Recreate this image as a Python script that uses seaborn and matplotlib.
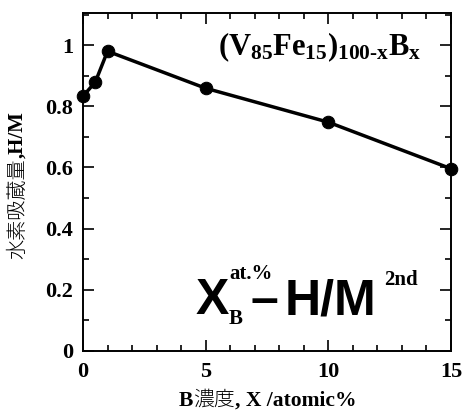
import matplotlib
matplotlib.use("Agg")
import matplotlib.pyplot as plt
from matplotlib.ticker import MultipleLocator
import seaborn as sns
import pandas as pd

# B content (at.%) and hydrogen capacity H/M
b_content = [0, 0.5, 1, 5, 10, 15]
h_over_m = [0.833, 0.879, 0.980, 0.859, 0.748, 0.596]

x_ticks = [0, 5, 10, 15]
x_tick_labels = ["0", "5", "10", "15"]
y_ticks = [0, 0.2, 0.4, 0.6, 0.8, 1.0]
y_tick_labels = ["0", "0.2", "0.4", "0.6", "0.8", "1"]

sns.set_style("ticks")
plt.rcParams.update({
    "font.family": ["Liberation Serif", "Noto Sans CJK JP"],
    "text.color": "black",
    "axes.labelcolor": "black",
    "axes.edgecolor": "black",
    "xtick.color": "black",
    "ytick.color": "black",
    "mathtext.fontset": "custom",
    "mathtext.rm": "Liberation Serif:bold",
    "mathtext.it": "Liberation Serif:bold",
    "mathtext.bf": "Liberation Serif:bold",
})

SERIF = ["Liberation Serif", "Noto Sans CJK JP"]
CJK = ["Noto Sans CJK JP", "Liberation Serif"]
SANS = ["Liberation Sans", "DejaVu Sans"]

df = pd.DataFrame({"x": b_content, "hm": h_over_m})

fig = plt.figure(figsize=(4.62, 4.12), dpi=100)
ax = fig.add_axes([83 / 462, 1 - 351 / 412, (451 - 83) / 462, (351 - 13) / 412])

sns.lineplot(data=df, x="x", y="hm", ax=ax, color="black", linewidth=2.5,
             marker="o", markersize=9, markeredgecolor="black",
             markerfacecolor="black", clip_on=False, zorder=5)

ax.set_xlim(0, 15)
ax.set_ylim(0, 1.105)
ax.set_xticks(x_ticks)
ax.set_xticklabels(x_tick_labels)
ax.set_yticks(y_ticks)
ax.set_yticklabels(y_tick_labels)
ax.xaxis.set_minor_locator(MultipleLocator(1))
ax.yaxis.set_minor_locator(MultipleLocator(0.1))
ax.tick_params(which="both", direction="in", top=True, right=True,
               color="black", width=1.2)
ax.tick_params(which="major", length=8, pad=7)
ax.tick_params(which="minor", length=4.5)
ax.tick_params(axis="x", which="major", pad=8)
for lab in ax.get_xticklabels() + ax.get_yticklabels():
    lab.set_fontfamily(SERIF)
    lab.set_fontweight("bold")
    lab.set_fontsize(16)
for sp in ax.spines.values():
    sp.set_linewidth(1.4)
    sp.set_color("black")
ax.set_xlabel("")
ax.set_ylabel("")

# x-axis label built from pieces: bold Latin, regular kanji
t1 = fig.text(179 / 462, 1 - 411 / 412, "B", fontsize=15.5,
              fontweight="bold", family=SERIF, ha="left", va="bottom")
t2 = ax.annotate("濃度", xy=(1, 0), xycoords=t1, fontsize=15,
                 family=CJK, fontweight="light", ha="left", va="bottom")
ax.annotate(", X /atomic%", xy=(1, 0), xycoords=t2, fontsize=15.5,
            fontweight="bold", family=SERIF, ha="left", va="bottom")

# y-axis label, reading bottom to top
y1 = fig.text(7 / 462, 1 - 259 / 412, "水素吸蔵量", fontsize=14.5,
              family=CJK, fontweight="light", rotation=90,
              ha="left", va="bottom")
ax.annotate(",H/M", xy=(0, 1), xycoords=y1, fontsize=15, fontweight="bold",
            family=SERIF, rotation=90, ha="left", va="bottom")

# composition label
ax.text(0.918, 0.876, r"$\mathrm{(V_{85}Fe_{15})_{100\text{-}x}B_x}$",
        transform=ax.transAxes, fontsize=22, ha="right", va="baseline")

# X_B^at.% - H/M^2nd
base_y = 1 - 314 / 412
bx = fig.text(196 / 462, base_y, "X", fontsize=36, fontweight="bold",
              family=SANS, ha="left", va="baseline")
fig.text(229 / 462, 1 - 279 / 412, "at.%", fontsize=15, fontweight="bold",
         family=SERIF, ha="left", va="baseline")
fig.text(229 / 462, 1 - 324 / 412, "B", fontsize=15, fontweight="bold",
         family=SERIF, ha="left", va="baseline")
fig.text(251 / 462, base_y, "–", fontsize=36, fontweight="bold",
         family=SANS, ha="left", va="baseline")
fig.text(285 / 462, base_y, "H/M", fontsize=36, fontweight="bold",
         family=SANS, ha="left", va="baseline")
fig.text(384 / 462, 1 - 285 / 412, "2nd", fontsize=15, fontweight="bold",
         family=SERIF, ha="left", va="baseline")

fig.savefig("out.png", dpi=100)
